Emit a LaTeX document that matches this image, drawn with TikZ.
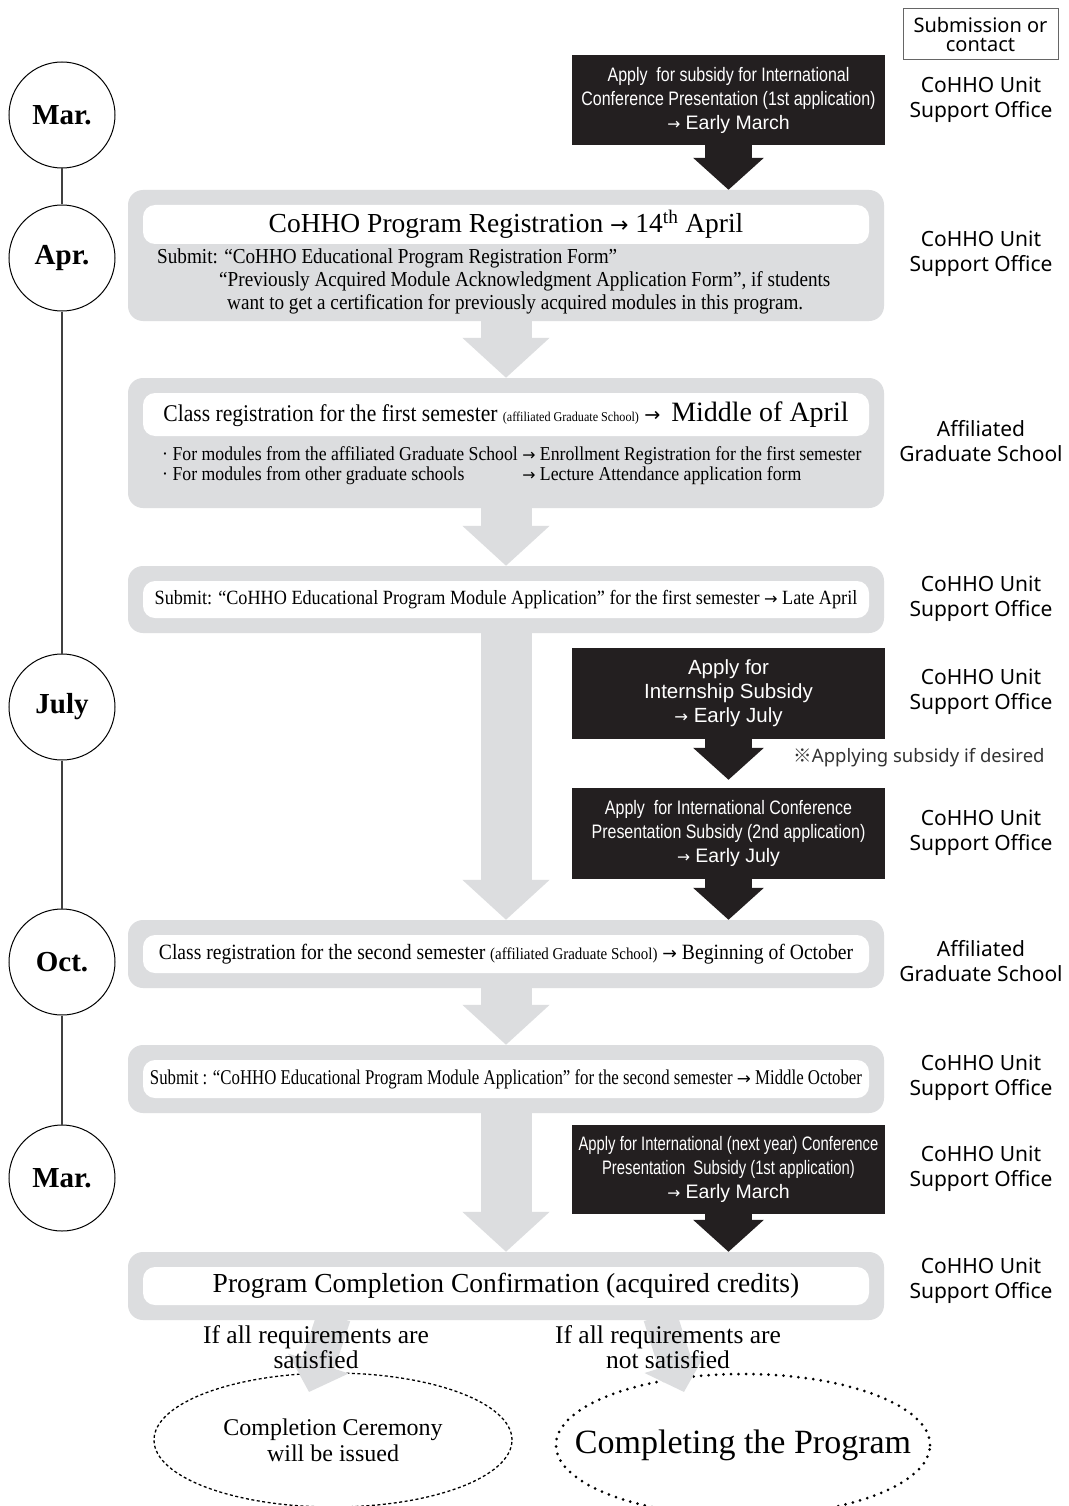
\documentclass[tikz,border=0pt]{standalone}
\usepackage{fontspec}
\setmainfont{Liberation Serif}
\newfontfamily\cserif[FakeStretch=0.9]{Liberation Serif}
\newfontfamily\cserifB[FakeStretch=0.8]{Liberation Serif}
\newfontfamily\mserif{Liberation Serif}
\newfontfamily\csans[FakeStretch=0.82]{Liberation Sans}
\newfontfamily\csansB[FakeStretch=0.76]{Liberation Sans}
\newfontfamily\nsans{Liberation Sans}
\newfontfamily\lsans{Noto Sans}
\newfontfamily\cjk{Noto Sans CJK JP}
\newfontfamily\arrfont[Scale=0.8]{DejaVu Sans}
\newcommand\arr{{\arrfont →}}
\usetikzlibrary{shapes.geometric,arrows.meta,calc}
\definecolor{pgray}{RGB}{220,221,223}
\definecolor{pblack}{RGB}{35,31,32}
\newcommand\fs[2]{\fontsize{#1}{#2}\selectfont}
\begin{document}
\begin{tikzpicture}[x=1pt,y=-1pt,
  gbox/.style={fill=pgray, rounded corners=15pt, minimum width=756pt, inner sep=0pt},
  wbox/.style={fill=white, rounded corners=12pt, minimum width=726pt, inner sep=0pt, font=\cserif\fs{21}{25}},
  bbox/.style={fill=pblack, text=white, minimum width=313pt, inner sep=0pt, align=center, font=\csans\fs{19.5}{24}},
  garrow/.style={draw=pgray, line width=51pt, -{Triangle[width=85pt,length=40pt]}},
  barrow/.style={draw=pblack, line width=47pt, -{Triangle[width=69pt,length=32pt]}},
  darrow/.style={draw=pgray, line width=34pt, -{Triangle[width=62pt,length=30pt]}},
  month/.style={circle, draw=black, line width=1pt, minimum size=106pt, inner sep=0pt, font=\mserif\bfseries\fs{29}{32}},
  office/.style={align=center, font=\lsans\fs{21}{25}},
  body/.style={inner sep=0pt, font=\cserif\fs{21.3}{23}},
  plain/.style={align=center, inner sep=0pt, font=\mserif\fs{25.5}{25}}
]
\useasboundingbox (0,0) rectangle (1068,1506);
\fill[white] (0,0) rectangle (1068,1506);

% timeline
\node[month] (m1) at (62,115) {Mar.};
\node[month] (m2) at (62,258) {Apr.};
\node[month] (m3) at (62,707) {July};
\node[month] (m4) at (62,962) {Oct.};
\node[month] (m5) at (62,1178) {Mar.};
\draw[line width=1.5pt, black!75] (m1.south) -- (m2.north);
\draw[line width=1.5pt, black!75] (m2.south) -- (m3.north);
\draw[line width=1.5pt, black!75] (m3.south) -- (m4.north);
\draw[line width=1.5pt, black!75] (m4.south) -- (m5.north);

% header box
\node[draw=black!60, line width=1pt, minimum width=155pt, minimum height=51pt, align=center, inner sep=0pt, font=\lsans\fs{20}{19}] (hdr) at (980.5,34.5) {Submission or\\contact};

% gray boxes
\node[gbox, minimum height=131pt] (g1) at (506,255.5) {};
\node[gbox, minimum height=130pt] (g2) at (506,443) {};
\node[gbox, minimum height=67pt] (g3) at (506,599.5) {};
\node[gbox, minimum height=68pt] (g4) at (506,954) {};
\node[gbox, minimum height=68pt] (g5) at (506,1079) {};
\node[gbox, minimum height=68pt] (g6) at (506,1286) {};

% gray arrows
\draw[garrow] (g1.south) -- (g2.north);
\draw[garrow] (g2.south) -- (g3.north);
\draw[garrow] (g3.south) -- (g4.north);
\draw[garrow] (g4.south) -- (g5.north);
\draw[garrow] (g5.south) -- (g6.north);

% white inner boxes
\node[wbox, minimum height=39pt, font=\mserif\fs{27.5}{30}] (w1) at (506,224.5) {CoHHO Program Registration \arr{} 14\textsuperscript{th} April};
\node[wbox, minimum height=43pt] (w2) at (506,414.5) {\fs{24}{28}Class registration for the first semester {\fs{13.5}{18}(affiliated Graduate School)} \arr~ {\mserif\fs{28}{28}Middle of April}};
\node[wbox, minimum height=37pt, font=\cserif\fs{20.2}{25}] (w3) at (506,599.5) {Submit: “CoHHO Educational Program Module Application” for the first semester \arr{} Late April};
\node[wbox, minimum height=38pt, font=\cserif\fs{21.8}{25}] (w4) at (506,954) {Class registration for the second semester {\fs{16.6}{18}(affiliated Graduate School)} \arr{} Beginning of October};
\node[wbox, minimum height=38pt, font=\cserifB\fs{21}{25}] (w5) at (506,1079) {Submit : “CoHHO Educational Program Module Application” for the second semester \arr{} Middle October};
\node[wbox, minimum height=38pt, font=\mserif\fs{27.5}{30}] (w6) at (506,1286) {Program Completion Confirmation (acquired credits)};

% G1 body
\node[body, anchor=base west] (s1a) at (157,264) {Submit: “CoHHO Educational Program Registration Form”};
\node[body, anchor=base west] (s1b) at (219,287) {“Previously Acquired Module Acknowledgment Application Form”, if students};
\node[body, anchor=base west] (s1c) at (227,309) {want to get a certification for previously acquired modules in this program.};

% G2 body
\node[inner sep=0pt, anchor=west, font=\cserif\fs{19.7}{20}] (s2) at (162,466) {\begin{tabular}{@{}l@{\ }l@{}}
· For modules from the affiliated Graduate School & \arr{} Enrollment Registration for the first semester\\
· For modules from other graduate schools & \arr{} Lecture Attendance application form
\end{tabular}};

% black boxes
\node[bbox, minimum height=90pt] (b1) at (728.5,100) {Apply~ for subsidy for International\\Conference Presentation (1st application)\\{\nsans \arr{} Early March}};
\node[bbox, minimum height=91pt, font=\nsans\fs{20.5}{24}] (b2) at (728.5,693.5) {Apply for\\Internship Subsidy\\\arr{} Early July};
\node[bbox, minimum height=91pt] (b3) at (728.5,833.5) {Apply~ for International Conference\\Presentation Subsidy (2nd application)\\{\nsans \arr{} Early July}};
\node[bbox, minimum height=89pt, font=\csansB\fs{19.5}{24}] (b4) at (728.5,1169.5) {Apply for International (next year) Conference\\Presentation~ Subsidy (1st application)\\{\nsans \arr{} Early March}};

% black arrows
\draw[barrow] (b1.south) -- (b1.south |- g1.north);
\draw[barrow, shorten >=8pt] (b2.south) -- (b3.north);
\draw[barrow] (b3.south) -- (b3.south |- g4.north);
\draw[barrow] (b4.south) -- (b4.south |- g6.north);

% office labels
\node[office] (o1) at (981,99.5) {CoHHO Unit\\Support Office};
\node[office] (o2) at (981,253.5) {CoHHO Unit\\Support Office};
\node[office] (o3) at (981,441) {Affiliated\\Graduate School};
\node[office] (o4) at (981,599) {CoHHO Unit\\Support Office};
\node[office] (o5) at (981,692) {CoHHO Unit\\Support Office};
\node[font=\lsans\fs{18.5}{20}, text=black!80, inner sep=0pt] (note) at (919,758) {{\cjk ※}Applying subsidy if desired};
\node[office] (o6) at (981,833) {CoHHO Unit\\Support Office};
\node[office] (o7) at (981,961) {Affiliated\\Graduate School};
\node[office] (o8) at (981,1078) {CoHHO Unit\\Support Office};
\node[office] (o9) at (981,1169) {CoHHO Unit\\Support Office};
\node[office] (o10) at (981,1281) {CoHHO Unit\\Support Office};

% outcome ellipses
\node[ellipse, draw=black, line width=1.3pt, dash pattern=on 3pt off 2.5pt, minimum width=358pt, minimum height=134pt] (e1) at (333,1440) {};
\node[align=center, inner sep=0pt, font=\mserif\fs{24}{26}] (e1t) at (e1.center) {Completion Ceremony\\will be issued};
\node[ellipse, draw=black, line width=3pt, dash pattern=on 0pt off 7.5pt, line cap=round, minimum width=374pt, minimum height=142pt] (e2) at (743,1445) {};
\node[inner sep=0pt, font=\mserif\fs{34}{38}] (e2t) at (e2.center) {Completing the Program};

% branch arrows
\coordinate (d1s) at (334,1316);
\coordinate (d1e) at (309,1392);
\coordinate (d2s) at (660,1316);
\coordinate (d2e) at (684,1392);
\draw[darrow] (d1s) -- (d1e);
\draw[darrow] (d2s) -- (d2e);
\node[plain] (c1) at (316,1347) {If all requirements are\\satisfied};
\node[plain] (c2) at (668,1347) {If all requirements are\\not satisfied};
\end{tikzpicture}
\end{document}
